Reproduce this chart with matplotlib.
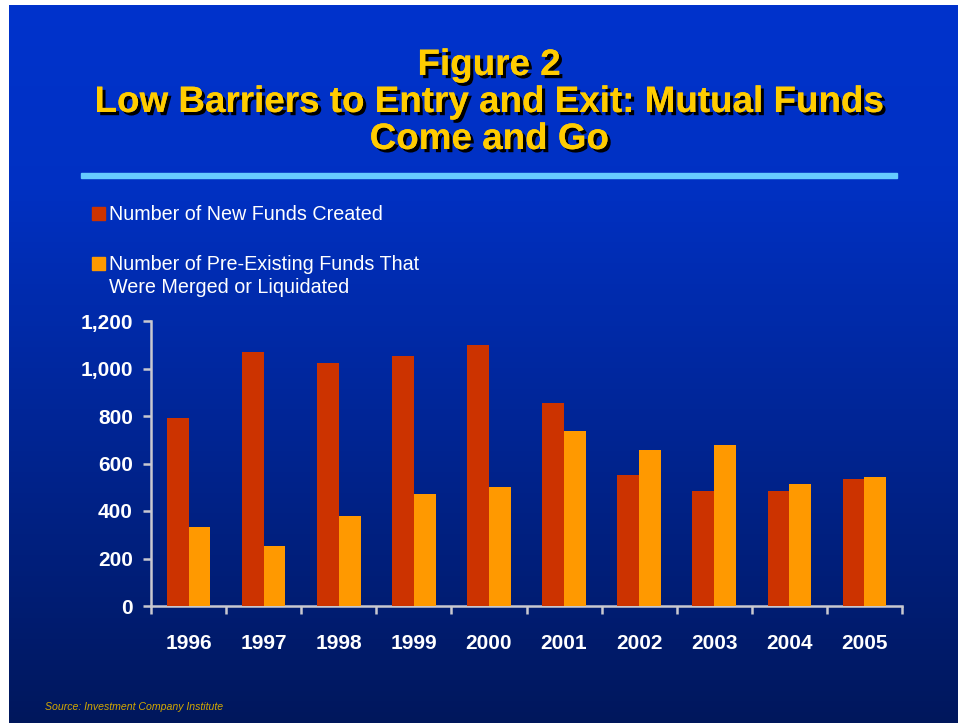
import numpy as np
import matplotlib
matplotlib.use("Agg")
import matplotlib.pyplot as plt
import matplotlib.patheffects as pe
from matplotlib.patches import Rectangle
from matplotlib.ticker import StrMethodFormatter, FixedLocator

# Data
years = ["1996", "1997", "1998", "1999", "2000", "2001", "2002", "2003", "2004", "2005"]
new_funds = [790, 1068, 1022, 1051, 1098, 854, 551, 484, 484, 534]
merged_liquidated = [332, 252, 378, 471, 500, 736, 656, 677, 513, 543]

title_lines = ["Figure 2", "Low Barriers to Entry and Exit: Mutual Funds", "Come and Go"]
legend_labels = ["Number of New Funds Created",
                 "Number of Pre-Existing Funds That\nWere Merged or Liquidated"]
source_text = "Source: Investment Company Institute"

RED = "#CC3300"
ORANGE = "#FF9900"
AXIS_GRAY = "#C8C8D0"
W, H = 958, 723

plt.rcParams["font.family"] = ["Liberation Sans", "DejaVu Sans"]

fig = plt.figure(figsize=(W / 100, H / 100), dpi=100, facecolor="white")

# Slide background with vertical gradient
bg = fig.add_axes([9 / W, 0, 1 - 9 / W, 1 - 5 / H], zorder=0)
t = np.linspace(0, 1, 400)
top = np.array([0x00, 0x33, 0xCC]) / 255
bottom = np.array([0x00, 0x17, 0x5C]) / 255
frac = np.interp(t, [0, 0.25, 1], [0, 0.08, 1])
grad = top[None, :] * (1 - frac[:, None]) + bottom[None, :] * frac[:, None]
bg.imshow(grad[:, None, :], aspect="auto", extent=[0, 1, 0, 1], origin="upper")
bg.set_axis_off()

# Title with drop shadow (baselines in pixels from top)
shadow = [pe.withSimplePatchShadow(offset=(2.3, -2.3), shadow_rgbFace="black", alpha=1), pe.Normal()]
for y, line in zip([75, 112, 149], title_lines):
    fig.text(489 / W, 1 - y / H, line, ha="center", va="baseline", fontsize=26.5,
             fontweight="bold", color="#FFCC00", path_effects=shadow, zorder=5)

# Light blue rule under title
fig.add_artist(Rectangle((81 / W, 1 - 178 / H), (897 - 81) / W, 5 / H,
                         transform=fig.transFigure, color="#66CCFF", zorder=5))

# Chart
ax = fig.add_axes([151 / W, 1 - 606 / H, 751 / W, 285 / H], zorder=2)
ax.patch.set_alpha(0)
x = np.arange(len(years))
bw = 0.29
ax.bar(x - bw / 2, new_funds, bw, color=RED, zorder=3)
ax.bar(x + bw / 2, merged_liquidated, bw, color=ORANGE, zorder=3)

ax.set_xlim(-0.5, len(years) - 0.5)
ax.set_ylim(0, 1200)
ax.set_yticks(np.arange(0, 1201, 200))
ax.yaxis.set_major_formatter(StrMethodFormatter("{x:,.0f}"))
ax.set_xticks(x)
ax.set_xticklabels(years)
ax.xaxis.set_minor_locator(FixedLocator(np.arange(-0.5, len(years), 1.0)))

for side in ["top", "right"]:
    ax.spines[side].set_visible(False)
for side in ["left", "bottom"]:
    ax.spines[side].set_color(AXIS_GRAY)
    ax.spines[side].set_linewidth(1.8)

ax.tick_params(axis="y", which="major", length=6, width=1.8, color=AXIS_GRAY,
               labelcolor="white", labelsize=15, pad=7)
ax.tick_params(axis="x", which="major", length=0, labelcolor="white", labelsize=15, pad=20)
ax.tick_params(axis="x", which="minor", length=6, width=1.8, color=AXIS_GRAY, direction="out")
for lbl in ax.get_xticklabels() + ax.get_yticklabels():
    lbl.set_fontweight("bold")

# Legend drawn as patches + text in figure space
legend_rows = [(207, legend_labels[0], RED), (257, legend_labels[1], ORANGE)]
for ytop, label, color in legend_rows:
    fig.add_artist(Rectangle((92 / W, 1 - (ytop + 13) / H), 13 / W, 13 / H,
                             transform=fig.transFigure, color=color, zorder=5))
    for i, part in enumerate(label.split("\n")):
        fig.text(109 / W, 1 - (ytop + 13 + 23 * i) / H, part, ha="left", va="baseline",
                 fontsize=14.2, color="white", zorder=5)

fig.text(45 / W, 1 - 707 / H, source_text, ha="left", va="center", fontsize=7.6,
         style="italic", color="#D4A800", zorder=5)

fig.savefig("out.png", dpi=100, facecolor=fig.get_facecolor())
